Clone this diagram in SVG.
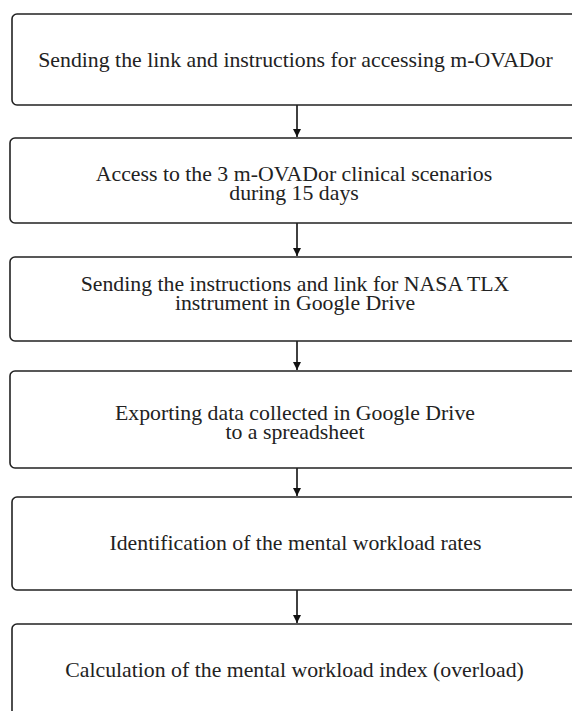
<svg xmlns="http://www.w3.org/2000/svg" width="572" height="711" viewBox="0 0 572 711">
<defs>
<style>
.box{fill:#fff;stroke:#222;stroke-width:1.6}
.t{font-family:"Liberation Serif","Times New Roman",serif;font-size:20px;fill:#222;text-anchor:middle}
.c{stroke:#111;stroke-width:1.6;fill:none}
</style>
<marker id="ah" viewBox="0 0 10 10" refX="10" refY="5" markerWidth="5" markerHeight="5" orient="auto" markerUnits="strokeWidth">
<path d="M0,0 L10,5 L0,10 z" fill="#111"/>
</marker>
</defs>
<rect width="572" height="711" fill="#fff"/>
<g id="connectors">
<line class="c" x1="297" y1="105" x2="297" y2="137" marker-end="url(#ah)"/>
<line class="c" x1="297" y1="223" x2="297" y2="256" marker-end="url(#ah)"/>
<line class="c" x1="297" y1="341" x2="297" y2="370" marker-end="url(#ah)"/>
<line class="c" x1="297" y1="468" x2="297" y2="496" marker-end="url(#ah)"/>
<line class="c" x1="297" y1="590" x2="297" y2="623" marker-end="url(#ah)"/>
</g>
<g id="n1">
<rect class="box" x="12" y="14" width="568" height="91" rx="5"/>
<text class="t" transform="translate(295.5,67) scale(1.09,1)">Sending the link and instructions for accessing m-OVADor</text>
</g>
<g id="n2">
<rect class="box" x="10" y="138" width="570" height="85" rx="5"/>
<text class="t" transform="translate(294,181) scale(1.09,1)">Access to the 3 m-OVADor clinical scenarios</text>
<text class="t" transform="translate(294,200) scale(1.09,1)">during 15 days</text>
</g>
<g id="n3">
<rect class="box" x="10" y="257" width="570" height="84" rx="5"/>
<text class="t" transform="translate(295,291) scale(1.09,1)">Sending the instructions and link for NASA TLX</text>
<text class="t" transform="translate(295,310) scale(1.09,1)">instrument in Google Drive</text>
</g>
<g id="n4">
<rect class="box" x="10" y="371" width="570" height="97" rx="5"/>
<text class="t" transform="translate(295,420) scale(1.09,1)">Exporting data collected in Google Drive</text>
<text class="t" transform="translate(295,439) scale(1.09,1)">to a spreadsheet</text>
</g>
<g id="n5">
<rect class="box" x="12" y="497" width="568" height="93" rx="5"/>
<text class="t" transform="translate(295.5,550) scale(1.09,1)">Identification of the mental workload rates</text>
</g>
<g id="n6">
<rect class="box" x="12" y="624" width="568" height="95" rx="5"/>
<text class="t" transform="translate(294.5,677) scale(1.09,1)">Calculation of the mental workload index (overload)</text>
</g>
</svg>
